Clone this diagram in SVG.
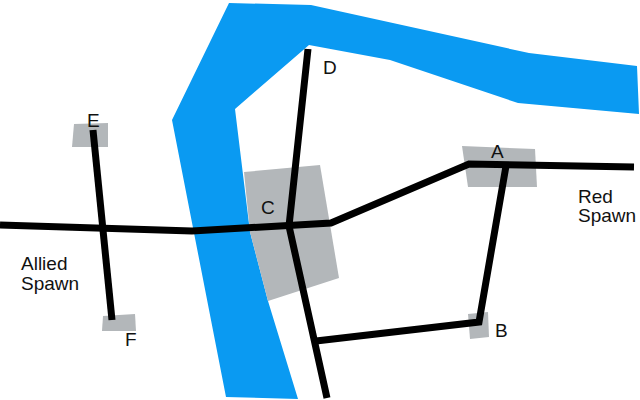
<svg xmlns="http://www.w3.org/2000/svg" width="640" height="400" viewBox="0 0 640 400">
<style>
.zone{fill:#b3b7ba}
.road{fill:none;stroke:#000;stroke-width:7;stroke-linejoin:miter}
text{font-family:"Liberation Sans",Arial,sans-serif;font-size:19px;fill:#111}
</style>
<rect width="640" height="400" fill="#fff"/>
<polygon id="river" fill="#0a9af2" points="229,3 311,5 529,53 637,66 639,114 518,103 390,60 309,45 235,109 250,232 268,301 298,399 226,397 172,120"/>
<g id="C"><polygon class="zone" points="244,172 320,165 339,278 268,301 250,232"/><text x="261" y="214">C</text></g>
<g id="A"><polygon class="zone" points="462,146 535,149 537,187 468,187"/><text x="491" y="158">A</text></g>
<g id="B"><polygon class="zone" points="468,314 488,312 489,337 470,339"/><text x="495" y="337">B</text></g>
<g id="D"><text x="323" y="74">D</text></g>
<g id="E"><polygon class="zone" points="74,124 108,123 108,147 72,147"/><text x="87" y="127">E</text></g>
<g id="F"><polygon class="zone" points="103,316 135,314 136,331 102,331"/><text x="125" y="346">F</text></g>
<g id="allied"><text x="21" y="270">Allied</text><text x="21" y="290">Spawn</text></g>
<g id="red"><text x="578" y="203">Red</text><text x="578" y="222">Spawn</text></g>
<g id="connectors">
<polyline class="road" points="0,225 192,231 331,223 469,164 634,167"/>
<polyline class="road" points="308,49 289,226 327,398"/>
<polyline class="road" points="316,341 479,322 506,166"/>
<polyline class="road" points="93,130 112,320"/>
</g>
</svg>
